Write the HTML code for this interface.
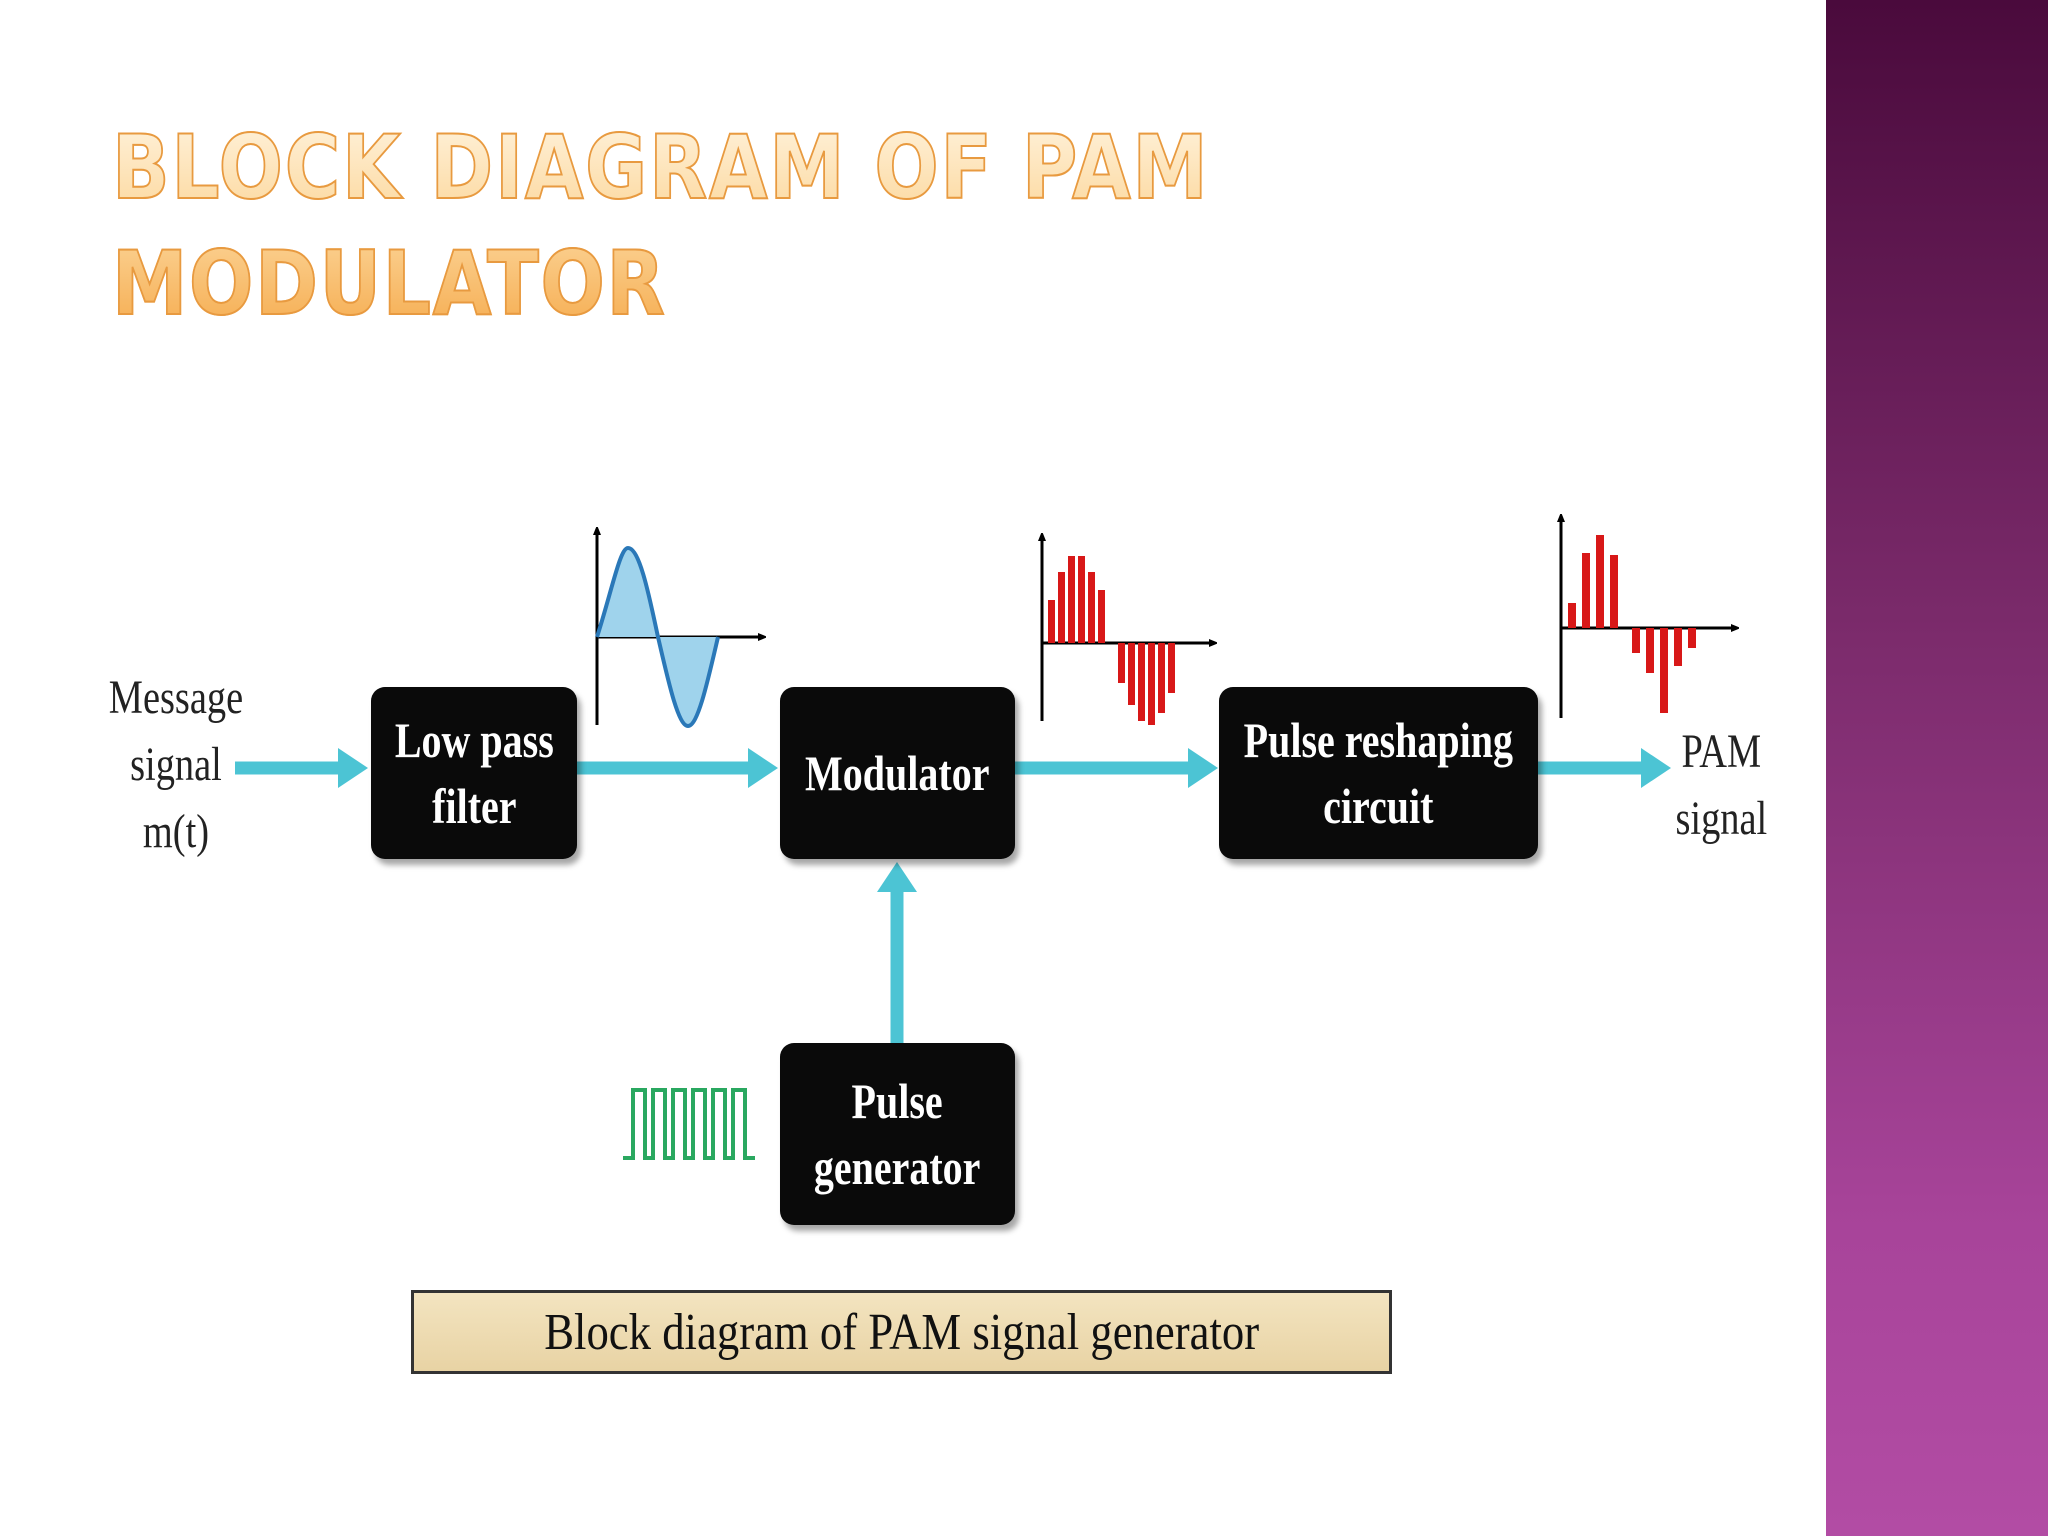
<!DOCTYPE html>
<html><head><meta charset="utf-8"><style>
body{margin:0;width:2048px;height:1536px;overflow:hidden;background:#fff;position:relative;font-family:"Liberation Sans",sans-serif}
.band{position:absolute;left:1826px;top:0;width:222px;height:1536px;background:linear-gradient(180deg,#4a0a3c 0%,#7a2a6a 40%,#a8449a 80%,#b24ca4 100%)}
.title{position:absolute;left:112px;top:110px;font:bold 88px "DejaVu Sans",sans-serif;letter-spacing:2px;line-height:116px;transform:scaleX(0.86);transform-origin:left top;white-space:nowrap;-webkit-text-stroke:2px #e89a40;background:linear-gradient(180deg,#fff4e0 0%,#fcd9a0 45%,#f5a94a 100%);-webkit-background-clip:text;-webkit-text-fill-color:transparent}
.box{position:absolute;background:#0a0a0a;border-radius:14px;box-shadow:4px 6px 6px rgba(0,0,0,.35);color:#fff;display:flex;align-items:center;justify-content:center;text-align:center;font:bold 50px "Liberation Serif",serif;line-height:66px}
.box span{display:inline-block;transform:scaleX(.8);white-space:nowrap}
.lbl{position:absolute;font:48px "Liberation Serif",serif;color:#222;text-align:center;line-height:67px}
.lbl span{display:inline-block;transform:scaleX(.8)}
.cap{position:absolute;left:411px;top:1290px;width:975px;height:78px;border:3px solid #333;background:linear-gradient(180deg,#f3e4c0,#e8d3a4);font:52px "Liberation Serif",serif;display:flex;align-items:center;justify-content:center;color:#111}
.cap span{display:inline-block;transform:scaleX(.86);white-space:nowrap}
</style></head><body>
<div class="band"></div>
<div class="title">BLOCK DIAGRAM OF PAM<br>MODULATOR</div>
<svg width="2048" height="1536" style="position:absolute;left:0;top:0">
<defs>
<marker id="ah" markerWidth="30" markerHeight="40" refX="4" refY="20" orient="auto" markerUnits="userSpaceOnUse"><path d="M0,0 L30,20 L0,40 z" fill="#4cc4d4"/></marker>
<marker id="ax" markerWidth="8" markerHeight="8" refX="6" refY="4" orient="auto" markerUnits="userSpaceOnUse"><path d="M0,0 L10,4 L0,8 z" fill="#000"/></marker>
</defs>
<g stroke="#4cc4d4" stroke-width="13" fill="none">
<line x1="235" y1="768" x2="342" y2="768" marker-end="url(#ah)"/>
<line x1="577" y1="768" x2="752" y2="768" marker-end="url(#ah)"/>
<line x1="1015" y1="768" x2="1192" y2="768" marker-end="url(#ah)"/>
<line x1="1538" y1="768" x2="1645" y2="768" marker-end="url(#ah)"/>
<line x1="897" y1="1043" x2="897" y2="888" marker-end="url(#ah)"/>
</g>
<line x1="597" y1="725" x2="597" y2="529" stroke="#000" stroke-width="3" marker-end="url(#ax)"/>
<line x1="597" y1="637" x2="764" y2="637" stroke="#000" stroke-width="3" marker-end="url(#ax)"/>
<path d="M597,637 C612,590 622,548 628,548 C640,548 650,600 658,637 Z" fill="#9fd3ec"/>
<path d="M658,637 C668,680 678,726 688,726 C698,726 708,680 718,637 Z" fill="#9fd3ec"/>
<path d="M597,637 C612,590 620,548 628,548 C640,548 650,600 658,637 C668,680 678,726 688,726 C698,726 708,680 718,637" stroke="#2a78b8" stroke-width="4" fill="none"/>
<line x1="1042" y1="721" x2="1042" y2="535" stroke="#000" stroke-width="3" marker-end="url(#ax)"/>
<line x1="1042" y1="643" x2="1215" y2="643" stroke="#000" stroke-width="3" marker-end="url(#ax)"/>
<g fill="#d81818">
<rect x="1048" y="600" width="7" height="43"/><rect x="1058" y="572" width="7" height="71"/><rect x="1068" y="556" width="7" height="87"/><rect x="1078" y="556" width="7" height="87"/><rect x="1088" y="572" width="7" height="71"/><rect x="1098" y="590" width="7" height="53"/>
<rect x="1118" y="643" width="7" height="40"/><rect x="1128" y="643" width="7" height="62"/><rect x="1138" y="643" width="7" height="78"/><rect x="1148" y="643" width="7" height="82"/><rect x="1158" y="643" width="7" height="70"/><rect x="1168" y="643" width="7" height="50"/>
</g>
<line x1="1561" y1="718" x2="1561" y2="516" stroke="#000" stroke-width="3" marker-end="url(#ax)"/>
<line x1="1561" y1="628" x2="1737" y2="628" stroke="#000" stroke-width="3" marker-end="url(#ax)"/>
<g fill="#d81818">
<rect x="1568" y="603" width="8" height="25"/><rect x="1582" y="553" width="8" height="75"/><rect x="1596" y="535" width="8" height="93"/><rect x="1610" y="555" width="8" height="73"/>
<rect x="1632" y="628" width="8" height="25"/><rect x="1646" y="628" width="8" height="45"/><rect x="1660" y="628" width="8" height="85"/><rect x="1674" y="628" width="8" height="38"/><rect x="1688" y="628" width="8" height="20"/>
</g>
<path d="M623,1158 L633,1158 L633,1090 L645,1090 L645,1158 L653,1158 L653,1090 L665,1090 L665,1158 L673,1158 L673,1090 L685,1090 L685,1158 L693,1158 L693,1090 L705,1090 L705,1158 L713,1158 L713,1090 L725,1090 L725,1158 L733,1158 L733,1090 L745,1090 L745,1158 L755,1158" stroke="#2aa860" stroke-width="4" fill="none"/>
</svg>
<div class="box" style="left:371px;top:687px;width:206px;height:172px"><span>Low pass<br>filter</span></div>
<div class="box" style="left:780px;top:687px;width:235px;height:172px"><span>Modulator</span></div>
<div class="box" style="left:1219px;top:687px;width:319px;height:172px"><span>Pulse reshaping<br>circuit</span></div>
<div class="box" style="left:780px;top:1043px;width:235px;height:182px"><span>Pulse<br>generator</span></div>
<div class="lbl" style="left:86px;top:664px;width:180px"><span>Message<br>signal<br>m(t)</span></div>
<div class="lbl" style="left:1650px;top:718px;width:142px"><span>PAM<br>signal</span></div>
<div class="cap"><span>Block diagram of PAM signal generator</span></div>
</body></html>
